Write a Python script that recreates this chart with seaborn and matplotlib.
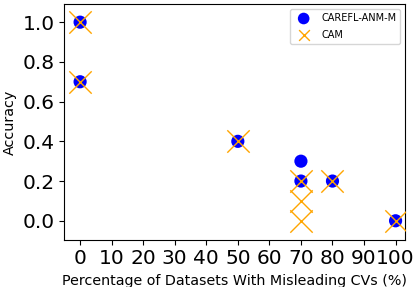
import matplotlib
matplotlib.use('Agg')
import matplotlib.pyplot as plt
import seaborn as sns

# ── Data ───────────────────────────────────────────────────────────────────────
carefl_x = [0, 0, 50, 70, 70, 80, 100]
carefl_y = [1.0, 0.7, 0.4, 0.3, 0.2, 0.2, 0.0]
cam_x = [0, 0, 50, 70, 70, 70, 80, 100]
cam_y = [1.0, 0.7, 0.4, 0.2, 0.1, 0.0, 0.2, 0.0]
xticks = list(range(0, 101, 10))

# ── Plot ───────────────────────────────────────────────────────────────────────
fig, ax = plt.subplots(figsize=(4.15, 2.87), dpi=100)
sns.scatterplot(x=carefl_x, y=carefl_y, ax=ax, color='blue', s=90,
                edgecolor='none', label='CAREFL-ANM-M', zorder=2)
sns.scatterplot(x=cam_x, y=cam_y, ax=ax, color='orange', marker='x', s=260,
                linewidth=1.0, label='CAM', zorder=3)

ax.set_xlim(-5, 103)
ax.set_ylim(-0.095, 1.09)
ax.set_xticks(xticks)
ax.set_yticks([0.0, 0.2, 0.4, 0.6, 0.8, 1.0])
ax.tick_params(labelsize=14.5)
ax.set_xlabel('Percentage of Datasets With Misleading CVs (%)', fontsize=10.3)
ax.set_ylabel('Accuracy', fontsize=10.3)
leg = ax.legend(loc='upper right', fontsize=7, labelspacing=0.7)
for h, sz in zip(leg.legend_handles, [70, 60]):
    h.set_sizes([sz])

plt.subplots_adjust(left=0.155, right=0.976, top=0.985, bottom=0.165)
plt.savefig('out.png', dpi=100)
